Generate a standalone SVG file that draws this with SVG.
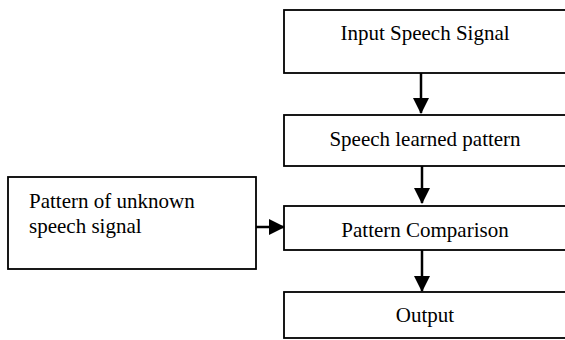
<svg xmlns="http://www.w3.org/2000/svg" width="565" height="340" viewBox="0 0 565 340">
<defs>
<style>
.box{fill:#fff;stroke:#000;stroke-width:1.8}
.t{font-family:"Liberation Serif","Times New Roman",serif;font-size:21px;fill:#000}
.c{text-anchor:middle}
.edge{stroke:#000;stroke-width:2.5;fill:none}
</style>
<marker id="ah" markerUnits="userSpaceOnUse" markerWidth="16" markerHeight="16" refX="15" refY="8" orient="auto" viewBox="0 0 16 16">
<path d="M0,0 L16,8 L0,16 Z" fill="#000"/>
</marker>
</defs>
<rect width="565" height="340" fill="#fff"/>
<g id="input">
<rect class="box" x="284" y="10" width="283" height="63"/>
<text class="t c" x="425" y="40">Input Speech Signal</text>
</g>
<g id="learned">
<rect class="box" x="284" y="115" width="283" height="51"/>
<text class="t c" x="425" y="146">Speech learned pattern</text>
</g>
<g id="comparison">
<rect class="box" x="284" y="206" width="283" height="44"/>
<text class="t c" x="425" y="237">Pattern Comparison</text>
</g>
<g id="output">
<rect class="box" x="284" y="292" width="283" height="46"/>
<text class="t c" x="425" y="322">Output</text>
</g>
<g id="unknown">
<rect class="box" x="8" y="177" width="248" height="92"/>
<text class="t" x="29" y="208">Pattern of unknown</text>
<text class="t" x="29" y="233">speech signal</text>
</g>
<g id="connectors">
<line class="edge" x1="421" y1="73" x2="421" y2="113" marker-end="url(#ah)"/>
<line class="edge" x1="422" y1="166" x2="422" y2="203" marker-end="url(#ah)"/>
<line class="edge" x1="422" y1="250" x2="422" y2="291" marker-end="url(#ah)"/>
<line class="edge" x1="256" y1="227" x2="284" y2="227" marker-end="url(#ah)"/>
</g>
</svg>
